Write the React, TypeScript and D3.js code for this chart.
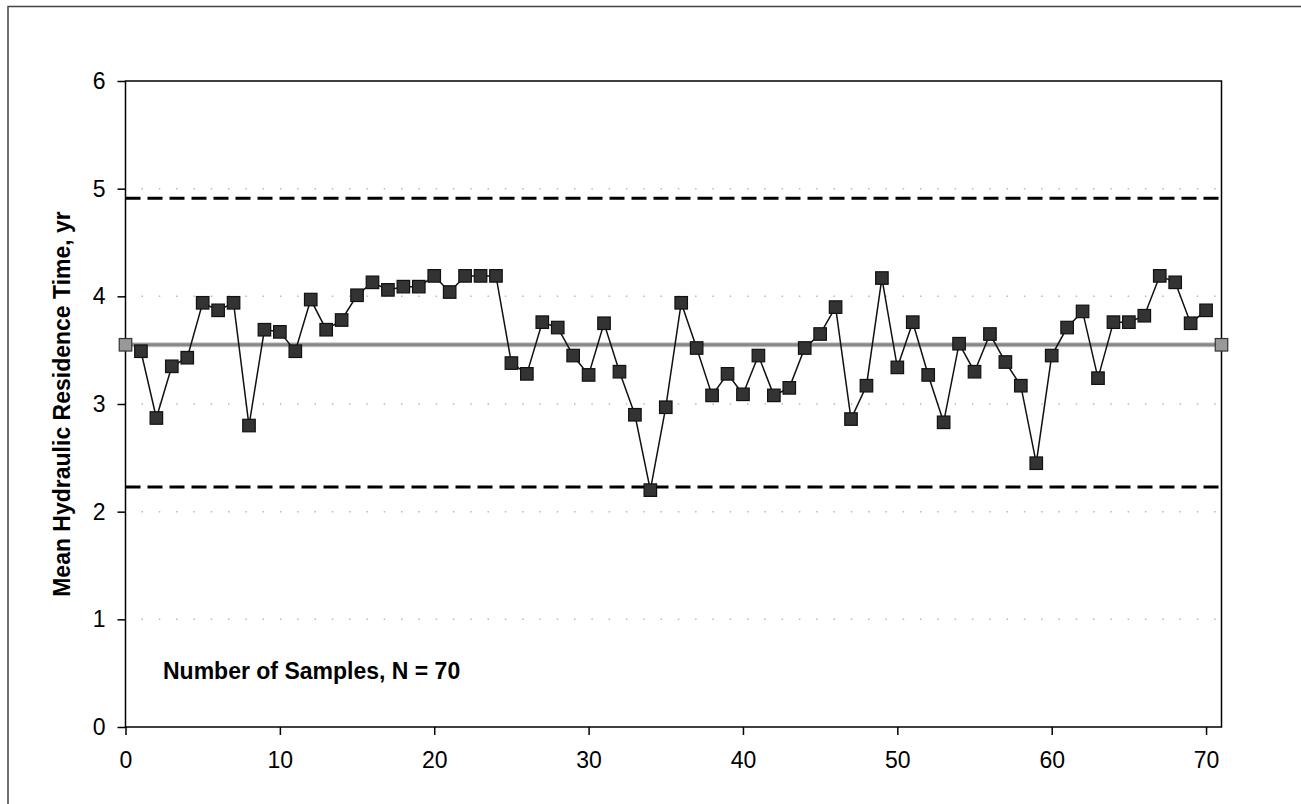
import React, { useEffect, useRef } from "react";
import * as d3 from "d3";

// sample number -> mean hydraulic residence time (yr)
const samples: number[] = d3.range(1, 71);
const residence: number[] = [
  3.49, 2.87, 3.35, 3.43, 3.94, 3.87, 3.94, 2.8, 3.69, 3.67,
  3.49, 3.97, 3.69, 3.78, 4.01, 4.13, 4.06, 4.09, 4.09, 4.19,
  4.04, 4.19, 4.19, 4.19, 3.38, 3.28, 3.76, 3.71, 3.45, 3.27,
  3.75, 3.3, 2.9, 2.2, 2.97, 3.94, 3.52, 3.08, 3.28, 3.09,
  3.45, 3.08, 3.15, 3.52, 3.65, 3.9, 2.86, 3.17, 4.17, 3.34,
  3.76, 3.27, 2.83, 3.56, 3.3, 3.65, 3.39, 3.17, 2.45, 3.45,
  3.71, 3.86, 3.24, 3.76, 3.76, 3.82, 4.19, 4.13, 3.75, 3.87,
];

// control limits
const meanValue = 3.55;
const upperLimit = 4.91;
const lowerLimit = 2.23;

const xTicks = [0, 10, 20, 30, 40, 50, 60, 70];
const yTicks = [0, 1, 2, 3, 4, 5, 6];
const yTitle = "Mean Hydraulic Residence Time, yr";
const note = "Number of Samples, N = 70";

const App = () => {
  const svgRef = useRef<SVGSVGElement>(null);

  useEffect(() => {
    const svg = d3.select(svgRef.current);
    svg.selectAll("*").remove();

    const width = 1301;
    const height = 804;
    const plot = { left: 125.5, right: 1221.5, top: 81, bottom: 727 };
    const font = "Arial, 'Liberation Sans', sans-serif";

    svg.attr("width", width).attr("height", height);

    // outer chart frame (runs past the right / bottom edge)
    svg
      .append("rect")
      .attr("x", 8)
      .attr("y", 6.5)
      .attr("width", width + 20)
      .attr("height", height + 20)
      .attr("fill", "white")
      .attr("stroke", "#444")
      .attr("stroke-width", 1.5);

    const x = d3.scaleLinear().domain([0, 71]).range([plot.left, plot.right]);
    const y = d3.scaleLinear().domain([0, 6]).range([plot.bottom, plot.top]);

    // dotted gridlines
    svg
      .append("g")
      .selectAll("line")
      .data(yTicks.filter((d) => d > 0 && d < 6))
      .join("line")
      .attr("x1", plot.left + 16)
      .attr("x2", plot.right)
      .attr("y1", (d) => y(d))
      .attr("y2", (d) => y(d))
      .attr("stroke", "#b8b8b8")
      .attr("stroke-width", 1.5)
      .attr("stroke-dasharray", "1.5 15.8");

    // control limits
    svg
      .append("g")
      .selectAll("line")
      .data([upperLimit, lowerLimit])
      .join("line")
      .attr("x1", plot.left)
      .attr("x2", plot.right)
      .attr("y1", (d) => y(d))
      .attr("y2", (d) => y(d))
      .attr("stroke", "#000")
      .attr("stroke-width", 3)
      .attr("stroke-dasharray", "15 7");

    // mean line
    svg
      .append("line")
      .attr("x1", x(0))
      .attr("x2", x(71))
      .attr("y1", y(meanValue))
      .attr("y2", y(meanValue))
      .attr("stroke", "#c8c8c8")
      .attr("stroke-width", 5);
    svg
      .append("line")
      .attr("x1", x(0))
      .attr("x2", x(71))
      .attr("y1", y(meanValue))
      .attr("y2", y(meanValue))
      .attr("stroke", "#888")
      .attr("stroke-width", 3);

    // axes frame
    svg
      .append("rect")
      .attr("x", plot.left)
      .attr("y", plot.top)
      .attr("width", plot.right - plot.left)
      .attr("height", plot.bottom - plot.top)
      .attr("fill", "none")
      .attr("stroke", "#000")
      .attr("stroke-width", 1.5);

    const yAxis = svg
      .append("g")
      .attr("transform", `translate(${plot.left},0)`)
      .call(d3.axisLeft(y).tickValues(yTicks).tickSize(8).tickPadding(12).tickFormat(d3.format("d")));
    yAxis.select(".domain").remove();
    yAxis.selectAll("line").attr("stroke", "#000").attr("stroke-width", 1.5);
    yAxis.selectAll("text").attr("font-family", font).attr("font-size", 23).attr("fill", "#000");

    const xAxis = svg
      .append("g")
      .attr("transform", `translate(0,${plot.bottom})`)
      .call(d3.axisBottom(x).tickValues(xTicks).tickSize(8).tickPadding(17).tickFormat(d3.format("d")));
    xAxis.select(".domain").remove();
    xAxis.selectAll("line").attr("stroke", "#000").attr("stroke-width", 1.5);
    xAxis.selectAll("text").attr("font-family", font).attr("font-size", 23).attr("fill", "#000");

    // series line + markers
    const pts = samples.map((s, i) => [s, residence[i]] as [number, number]);
    svg
      .append("path")
      .datum(pts)
      .attr("fill", "none")
      .attr("stroke", "#111")
      .attr("stroke-width", 1.5)
      .attr("d", d3.line<[number, number]>().x((d) => x(d[0])).y((d) => y(d[1])));

    const m = 12.5;
    svg
      .append("g")
      .selectAll("rect")
      .data(pts)
      .join("rect")
      .attr("x", (d) => x(d[0]) - m / 2)
      .attr("y", (d) => y(d[1]) - m / 2)
      .attr("width", m)
      .attr("height", m)
      .attr("fill", "#333")
      .attr("stroke", "#111")
      .attr("stroke-width", 1.2);

    // mean end markers
    svg
      .append("g")
      .selectAll("rect")
      .data([0, 71])
      .join("rect")
      .attr("x", (d) => x(d) - m / 2)
      .attr("y", y(meanValue) - m / 2)
      .attr("width", m)
      .attr("height", m)
      .attr("fill", "#999")
      .attr("stroke", "#333")
      .attr("stroke-width", 1.2);

    // titles
    svg
      .append("text")
      .attr("transform", `translate(70,${(plot.top + plot.bottom) / 2}) rotate(-90)`)
      .attr("text-anchor", "middle")
      .attr("font-family", font)
      .attr("font-size", 23)
      .attr("font-weight", "bold")
      .text(yTitle);

    svg
      .append("text")
      .attr("x", 163)
      .attr("y", 679)
      .attr("font-family", font)
      .attr("font-size", 23)
      .attr("font-weight", "bold")
      .text(note);
  }, []);

  return (
    <div style={{ position: "absolute", left: 0, top: 0, width: 1301, height: 804, overflow: "hidden" }}>
      <svg ref={svgRef} style={{ display: "block" }} />
    </div>
  );
};

export default App;
